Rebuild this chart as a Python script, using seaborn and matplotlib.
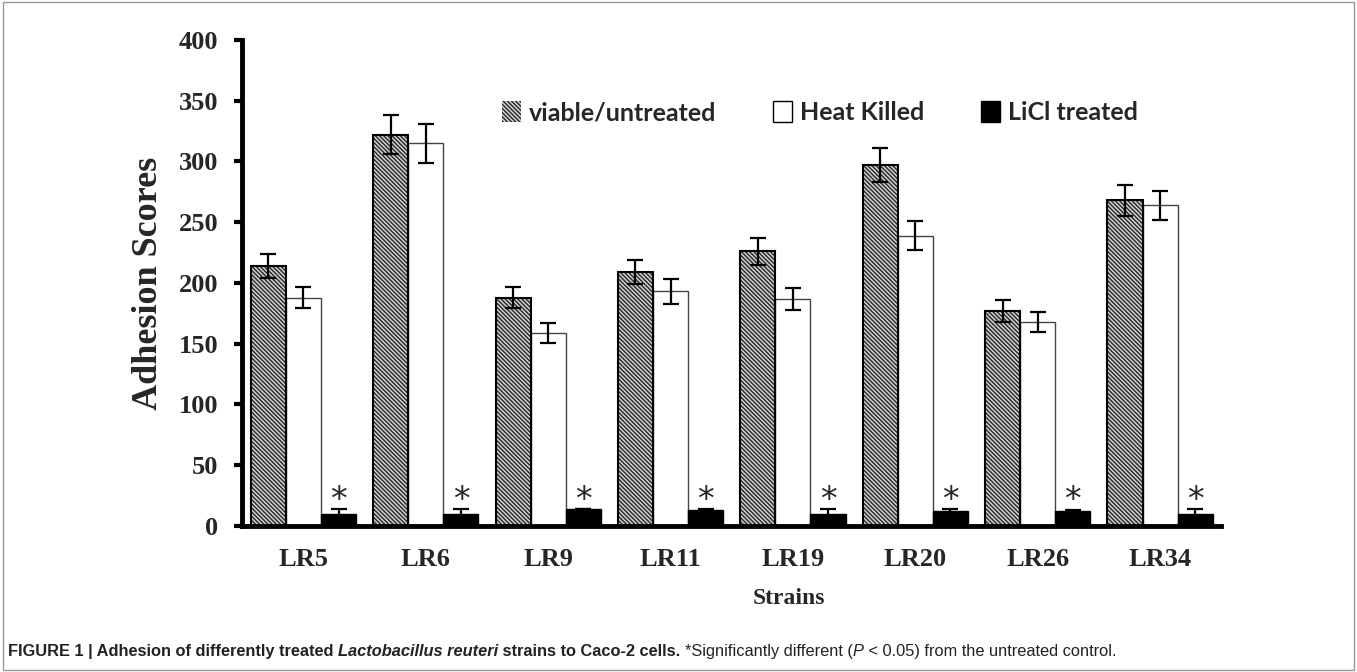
import matplotlib
matplotlib.use('Agg')
import matplotlib.pyplot as plt
import matplotlib.patches as mpatches
import numpy as np
import pandas as pd
import seaborn as sns

# adhesion scores
strains = ['LR5', 'LR6', 'LR9', 'LR11', 'LR19', 'LR20', 'LR26', 'LR34']
treatments = ['viable/untreated', 'Heat Killed', 'LiCl treated']
viable = [214, 322, 188, 209, 226, 297, 177, 268]
heat_killed = [188, 315, 159, 193, 187, 239, 168, 264]
licl = [10, 10, 14, 13, 10, 12, 12, 10]
viable_err = [10, 16, 9, 10, 11, 14, 9, 13]
heat_err = [9, 16, 8, 10, 9, 12, 8, 12]
licl_err = [4, 4, 0, 1, 4, 2, 1, 4]

df = pd.DataFrame({
    'strain': strains * 3,
    'treatment': np.repeat(treatments, len(strains)),
    'score': viable + heat_killed + licl,
    'err': viable_err + heat_err + licl_err,
})

sns.set_style('white')
serif = 'Liberation Serif'
HATCH = '\\\\\\\\\\\\\\\\'

fig = plt.figure(figsize=(13.57, 6.72), dpi=100)
ax = fig.add_axes([0.1785, 0.2173, 0.7215, 0.7232])

palette = {'viable/untreated': '#303030', 'Heat Killed': 'white', 'LiCl treated': 'black'}
sns.barplot(data=df, x='strain', y='score', hue='treatment', order=strains,
            hue_order=treatments, palette=palette, width=0.86, errorbar=None,
            saturation=1, ax=ax, legend=False)

# style bars per treatment, hatch on the viable ones; error bars at patch centres
for cont, tr in zip(ax.containers, treatments):
    sub = df[df.treatment == tr].set_index('strain').loc[strains]
    xs = []
    for bar in cont:
        xs.append(bar.get_x() + bar.get_width() / 2)
        if tr == 'viable/untreated':
            bar.set_hatch(HATCH)
            bar.set_edgecolor('#d8d8d8')
            bar.set_linewidth(0)
            ax.add_patch(mpatches.Rectangle(bar.get_xy(), bar.get_width(), bar.get_height(),
                                            fill=False, edgecolor='black', lw=1.5, zorder=3))
        elif tr == 'Heat Killed':
            bar.set_edgecolor('#444444')
            bar.set_linewidth(1.0)
        else:
            bar.set_edgecolor('black')
    ax.errorbar(xs, sub['score'], yerr=sub['err'], fmt='none', ecolor='black',
                elinewidth=1.6, capsize=5.5, capthick=1.6, zorder=4)
    if tr == 'LiCl treated':
        for x in xs:
            ax.text(x, 7, '*', ha='center', va='bottom', fontsize=24, family='DejaVu Sans')

ax.set_xlim(-0.5, 7.5)
ax.set_ylim(0, 400)
ax.set_yticks(range(0, 401, 50))
ax.set_xlabel('Strains', fontsize=17, fontweight='bold', family=serif, labelpad=12, x=0.558)
ax.set_ylabel('Adhesion Scores', fontsize=26, fontweight='bold', family=serif, labelpad=10)
for lab in ax.get_xticklabels() + ax.get_yticklabels():
    lab.set_family(serif)
    lab.set_fontweight('bold')
    lab.set_fontsize(19)
ax.tick_params(axis='y', length=6, width=3, color='black', pad=11, left=True)
ax.tick_params(axis='x', length=0, pad=16)
sns.despine(ax=ax)
for s in ['left', 'bottom']:
    ax.spines[s].set_linewidth(3.5)
    ax.spines[s].set_color('black')

handles = [mpatches.Patch(facecolor='#303030', edgecolor='#d8d8d8', hatch=HATCH, lw=0),
           mpatches.Patch(facecolor='white', edgecolor='black', lw=1),
           mpatches.Patch(facecolor='black', edgecolor='black')]
leg = ax.legend(handles, treatments, ncol=3, loc='center', bbox_to_anchor=(0.59, 0.85),
                frameon=False, handlelength=0.75, handleheight=0.9, handletextpad=0.3,
                columnspacing=2.3, prop={'family': 'Lato', 'size': 18, 'weight': 'bold'})

# caption built from consecutive text pieces
pieces = [('FIGURE 1 | Adhesion of differently treated ', 'bold', 'normal'),
          ('Lactobacillus reuteri', 'bold', 'italic'),
          (' strains to Caco-2 cells. ', 'bold', 'normal'),
          ('*Significantly different (', 'normal', 'normal'),
          ('P', 'normal', 'italic'),
          (' < 0.05) from the untreated control.', 'normal', 'normal')]
fig.canvas.draw()
r = fig.canvas.get_renderer()
x = 8 / 1357
for txt, w, st in pieces:
    t = fig.text(x, 0.024, txt, fontsize=11.75, fontweight=w, style=st,
                 family='Liberation Sans', color='#222222', va='baseline')
    bb = t.get_window_extent(renderer=r)
    x = bb.x1 / fig.bbox.width

fig.add_artist(mpatches.Rectangle((0.002, 0.003), 0.996, 0.994, transform=fig.transFigure,
                                  fill=False, edgecolor='#9a9a9a', lw=1))

fig.savefig('out.png', dpi=100)
